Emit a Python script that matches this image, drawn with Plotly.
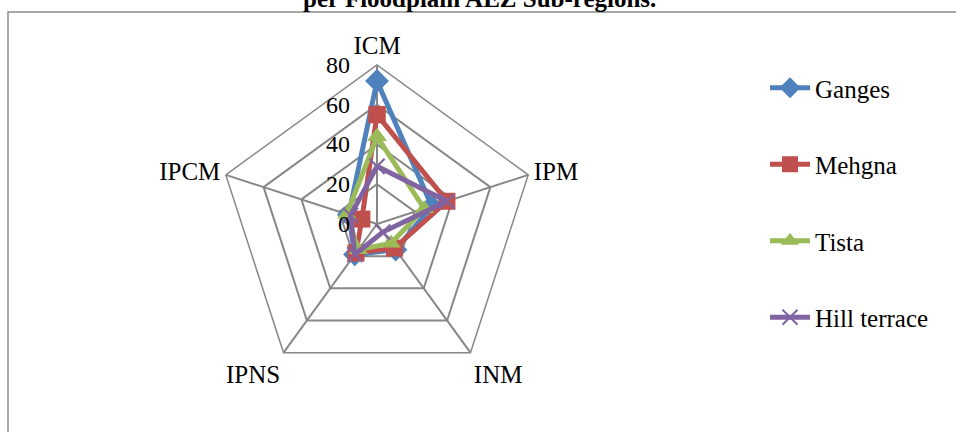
import plotly.graph_objects as go

# Indicator axes of the radar chart
categories = ["ICM", "IPM", "INM", "IPNS", "IPCM"]

# Indicator scores per floodplain AEZ sub-region
ganges = [72, 29, 16, 19, 15]
mehgna = [55, 37, 15, 18, 8]
tista = [44, 25, 12, 16, 16]
hill_terrace = [29, 37, 5, 19, 14]

series_names = ["Ganges", "Mehgna", "Tista", "Hill terrace"]
series_values = [ganges, mehgna, tista, hill_terrace]
series_colors = ["#4F81BD", "#C0504D", "#9BBB59", "#8064A2"]
series_symbols = ["diamond", "square", "triangle-up", "x-thin"]
series_sizes = [18, 17, 17, 15]

radial_ticks = [0, 20, 40, 60, 80]

W, H = 956, 432
cx, cy, R = 377, 224, 159  # polar centre and outer radius in pixels
FONT = "Liberation Serif"

fig = go.Figure()
for name, vals, col, sym, size in zip(series_names, series_values, series_colors,
                                      series_symbols, series_sizes):
    marker = dict(symbol=sym, size=size, color=col)
    if sym == "x-thin":
        marker["line"] = dict(color=col, width=2)
    fig.add_trace(go.Scatterpolar(
        r=vals + vals[:1],
        theta=categories + categories[:1],
        mode="lines+markers",
        name=name,
        legendgroup=name,
        line=dict(color=col, width=5),
        marker=marker,
    ))

fig.update_layout(
    width=W, height=H,
    margin=dict(l=0, r=0, t=0, b=0),
    paper_bgcolor="white",
    plot_bgcolor="white",
    font=dict(family=FONT, size=25, color="black"),
    showlegend=True,
    legend=dict(
        x=765 / W, y=1 - 65 / H, xanchor="left", yanchor="top",
        font=dict(family=FONT, size=25, color="black"),
        tracegroupgap=41, traceorder="grouped",
        itemwidth=40, bgcolor="rgba(0,0,0,0)",
    ),
    polar=dict(
        domain=dict(x=[(cx - R) / W, (cx + R) / W],
                    y=[(H - cy - R) / H, (H - cy + R) / H]),
        gridshape="linear",
        bgcolor="white",
        radialaxis=dict(
            range=[0, 80], tickvals=radial_ticks, angle=90, tickangle=90,
            side="counterclockwise",
            showline=False, gridcolor="#878787", gridwidth=1.5,
            tickfont=dict(family=FONT, size=24, color="black"),
            ticks="outside", ticklen=18, tickcolor="rgba(0,0,0,0)",
        ),
        angularaxis=dict(
            rotation=90, direction="clockwise",
            showline=True, linecolor="#878787", linewidth=1.5,
            gridcolor="#878787", gridwidth=1.5,
            tickfont=dict(family=FONT, size=25, color="black"),
            ticks="",
        ),
    ),
    shapes=[dict(
        type="rect", xref="paper", yref="paper",
        x0=8 / W, x1=1.02, y0=-0.05, y1=1 - 12 / H,
        line=dict(color="#8C8C8C", width=1.5), fillcolor="rgba(0,0,0,0)",
        layer="below",
    )],
    annotations=[dict(
        text="<b>per Floodplain AEZ Sub-regions.</b>",
        xref="paper", yref="paper", x=479 / W, y=1,
        xanchor="center", yanchor="bottom", yshift=-14, showarrow=False,
        font=dict(family=FONT, size=25, color="black"),
    )],
)

fig.write_html("out.html")
